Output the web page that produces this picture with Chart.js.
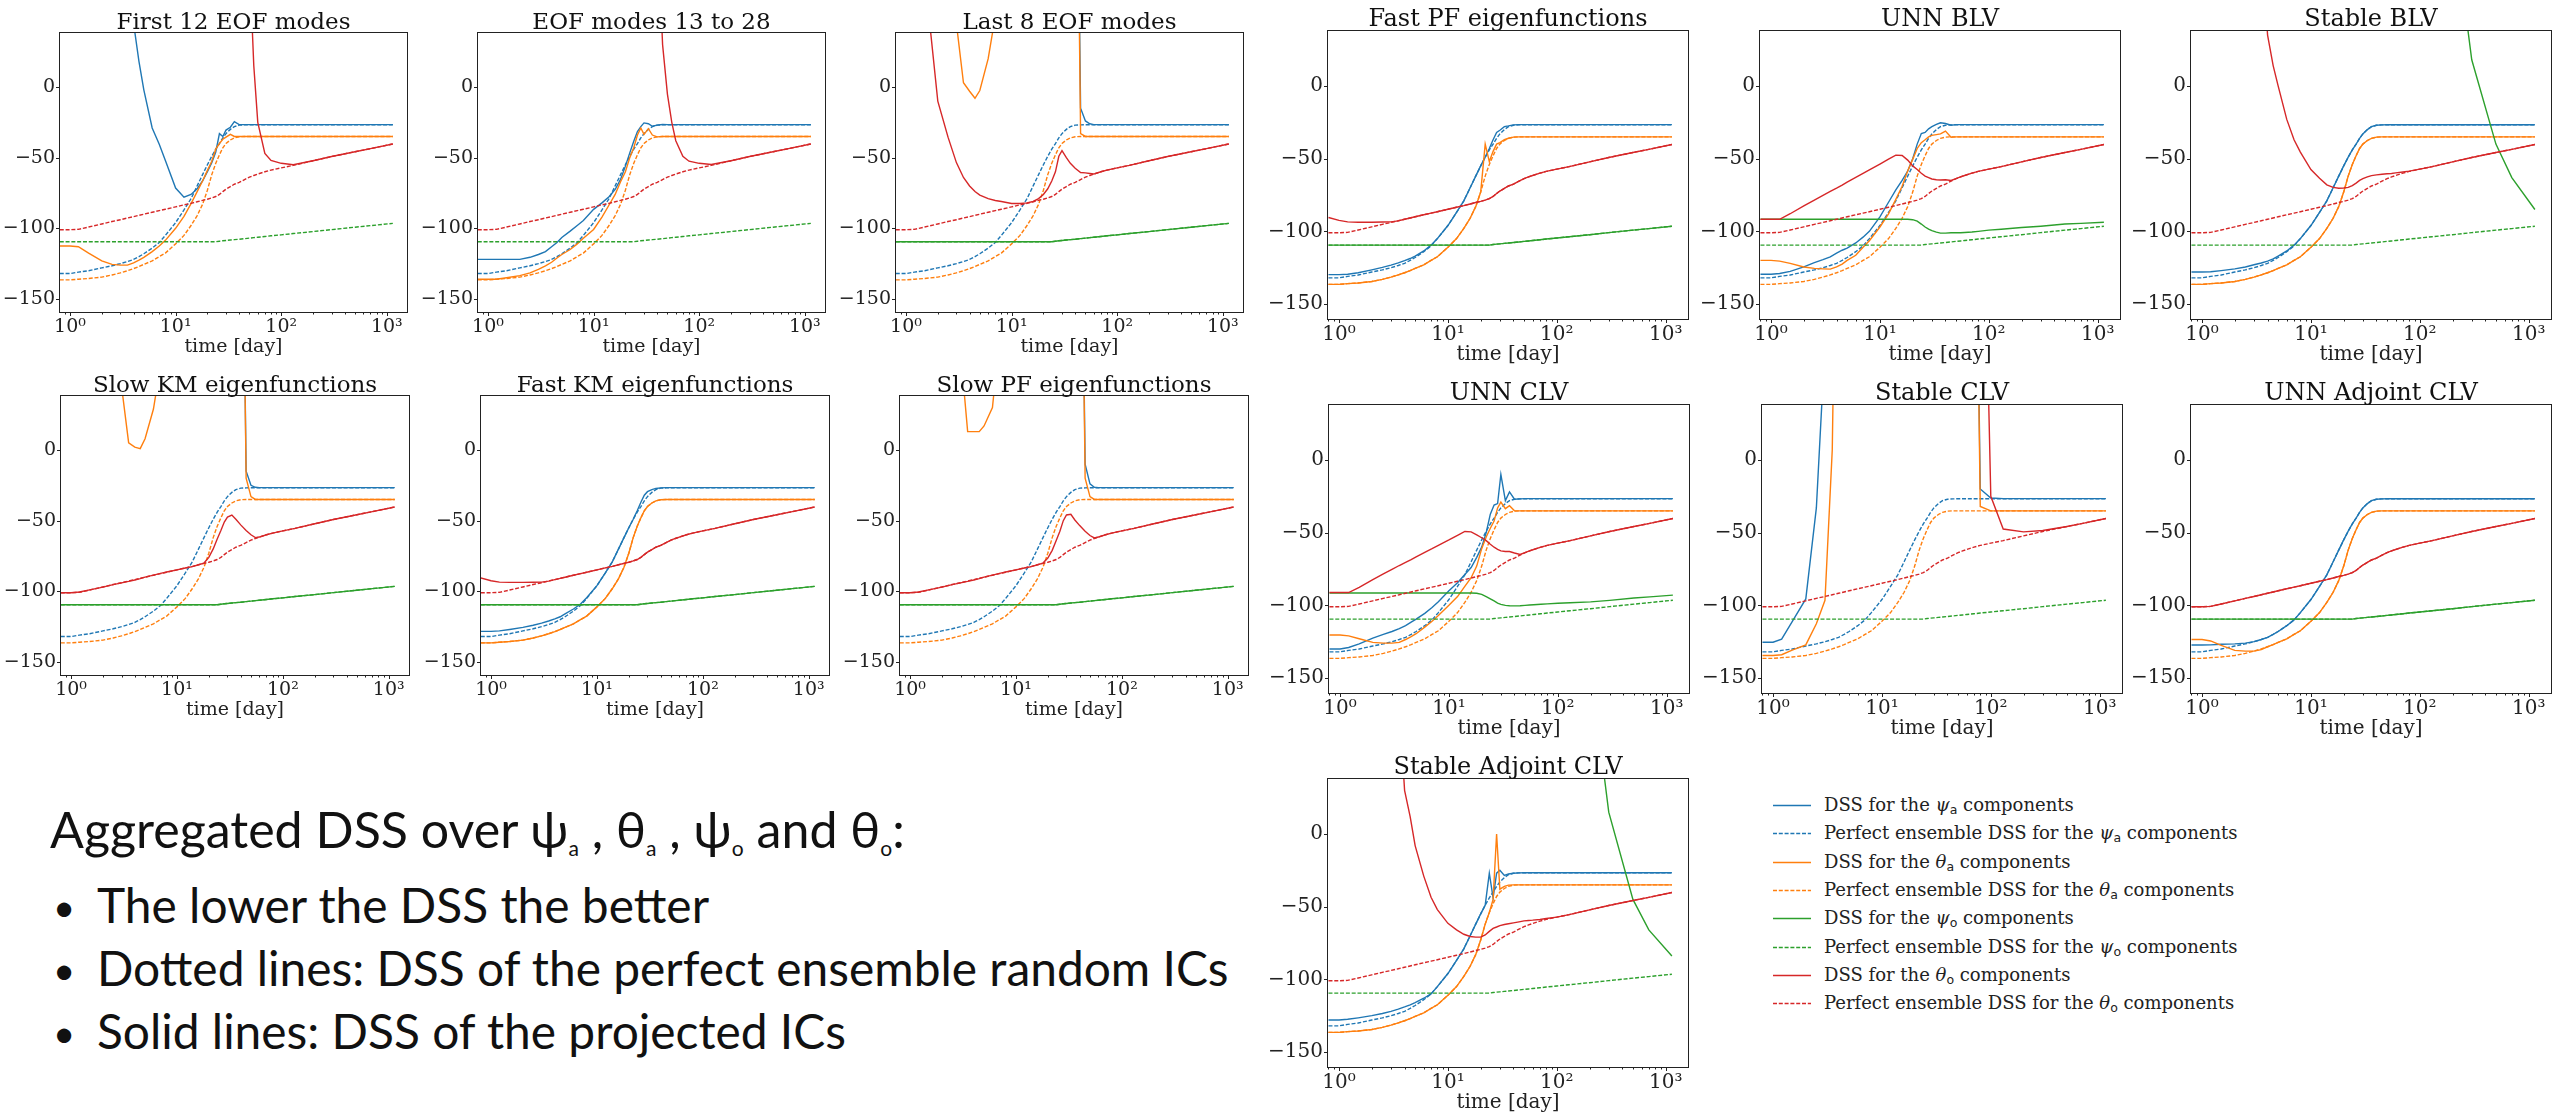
<!DOCTYPE html>
<html><head><meta charset="utf-8">
<script src="https://cdn.jsdelivr.net/npm/chart.js@4.4.1/dist/chart.umd.min.js"></script>
<style>
html,body{margin:0;padding:0;background:#fff;}
body{width:2553px;height:1116px;position:relative;overflow:hidden;}
canvas{position:absolute;display:block;}
.note{position:absolute;font-family:Lato,'Noto Sans',sans-serif;color:#111;white-space:nowrap;line-height:1.2;}
.note sub{font-size:0.42em;vertical-align:-0.36em;line-height:0;}
.leg{position:absolute;font-family:'DejaVu Serif',serif;font-size:18px;color:#222;white-space:nowrap;line-height:28px;height:28px;}
.leg i{font-style:italic;}
.leg sub{font-family:'DejaVu Sans',sans-serif;font-size:12.5px;vertical-align:-3px;line-height:0;}
.leg svg{position:absolute;left:-51px;top:13px;}
</style></head><body>
<script>
// ---------------- data ----------------
const T_DAYS = [0.8, 1, 1.2, 1.5, 2, 2.5, 3, 3.5, 4, 4.5, 5, 6, 7, 8, 10, 12, 14, 16, 18, 20, 22, 24, 26, 28, 30, 33, 36, 40, 45, 50, 55, 60, 70, 80, 100, 130, 200, 300, 500, 700, 1140];

// perfect-ensemble reference curves (dashed)
const REF_PSI_A = [-132, -132, -131, -130, -128, -126.5, -125, -123.5, -122, -120,
  -118, -114, -110, -105, -96, -87, -79, -70, -62, -55,
  -49, -44, -40, -36, -33, -30, -28, -27, -26.8, -26.7,
  -26.7, -26.7, -26.7, -26.7, -26.7, -26.7, -26.7, -26.7, -26.7, -26.7, -26.7];
const REF_THETA_A = [-136.5, -136.5, -136, -135.5, -134.5, -133, -131.5, -130, -128.5, -127,
  -125.5, -123, -120, -117.5, -111, -105, -98, -91, -83, -73,
  -62, -54, -48, -43, -40, -37.5, -36, -35.2, -35, -35,
  -35, -35, -35, -35, -35, -35, -35, -35, -35, -35, -35];
const REF_PSI_O = [-109.5, -109.5, -109.5, -109.5, -109.5, -109.5, -109.5, -109.5, -109.5, -109.5,
  -109.5, -109.5, -109.5, -109.5, -109.5, -109.5, -109.5, -109.5, -109.5, -109.5,
  -109.5, -109.5, -109.1, -108.8, -108.6, -108.3, -108.0, -107.7, -107.3, -106.9,
  -106.6, -106.3, -105.8, -105.3, -104.6, -103.7, -102.3, -100.9, -99.2, -98.1, -96.5];
const REF_THETA_O = [-101, -101, -100.7, -99.1, -96.9, -95.2, -93.9, -92.7, -91.7, -90.8,
  -90, -88.6, -87.5, -86.5, -84.8, -83.4, -82.3, -81.2, -80.2, -79.4,
  -78.5, -77.5, -76, -74, -72.3, -70.5, -68.8, -67.5, -65.5, -63.8,
  -62.6, -61.6, -60, -58.8, -57.2, -55.5, -52.2, -49.2, -45.8, -43.6, -40.3];

// First 12 EOF modes
const EOF12_PSI_A = [300, 300, 300, 300, 300, 300, 300, 150, 45, 18,
  -2, -29, -40.5, -52, -71.5, -78, -76, -72, -66.5, -60,
  -53.5, -46, -33, -35, -30.5, -28.5, -24.5, -26.6, -26.6, -26.6,
  -26.6, -26.6, -26.6, -26.6, -26.6, -26.6, -26.6, -26.6, -26.6, -26.6, -26.6];
const EOF12_THETA_A = [-112.5, -112.5, -113, -117.5, -123, -125.5, -126, -126, -124.5, -122.5,
  -120.5, -116.5, -112.5, -108.5, -100, -91.5, -82.5, -74, -66.5, -59,
  -52.5, -44, -40, -37, -35.5, -33.5, -35, -35, -35, -35,
  -35, -35, -35, -35, -35, -35, -35, -35, -35, -35, -35];
const EOF12_THETA_O = [null, null, null, null, null, null, null, null, null, null,
  null, null, null, null, null, null, null, null, null, null,
  null, null, null, null, null, null, 300, 300, 200, 90,
  15, -25, -47, -52, -54, -55, -52.2, -49.2, -45.8, -43.6, -40.3];

// EOF modes 13 to 28
const EOF13_PSI_A = [-122, -122, -122, -122, -122, -120.5, -118.5, -116.5, -113, -110,
  -106.5, -102, -98, -94.5, -86.6, -82, -77.6, -72.5, -65.4, -56,
  -46.6, -38.4, -31.5, -28, -25.4, -26, -27.8, -27, -26.5, -26.6,
  -26.6, -26.6, -26.6, -26.6, -26.6, -26.6, -26.6, -26.6, -26.6, -26.6, -26.6];
const EOF13_THETA_A = [-136, -136, -136, -135, -133.5, -131.5, -129, -126.5, -124, -121,
  -118.5, -115, -111, -107, -100.8, -92, -83.5, -76, -67, -60,
  -50, -43, -34, -29, -33.5, -29.5, -34, -35.3, -35, -35,
  -35, -35, -35, -35, -35, -35, -35, -35, -35, -35, -35];
const EOF13_THETA_O = [null, null, null, null, null, null, null, null, null, null,
  null, null, null, null, null, null, null, null, null, null,
  null, null, null, null, null, null, 300, 120, 30, -5,
  -25, -38, -49, -52.5, -54, -54.8, -52.2, -49.2, -45.8, -43.6, -40.3];

// Last 8 EOF modes
const EOF8_PSI_A = [null, null, null, null, null, null, null, null, null, null,
  null, null, null, null, null, null, null, null, null, null,
  null, null, null, null, null, null, null, 300, -15, -24,
  -26, -26.6, -26.6, -26.6, -26.6, -26.6, -26.6, -26.6, -26.6, -26.6, -26.6];
const EOF8_THETA_A = [300, 300, 300, 300, 300, 300, 45, 3, -3, -8,
  -2.5, 20, 50, 300, 300, 300, 300, 300, 300, 300,
  300, 300, 300, 300, 300, 300, 300, 300, -33, -35,
  -35, -35, -35, -35, -35, -35, -35, -35, -35, -35, -35];
const EOF8_THETA_O = [300, 300, 300, 80, -10, -35.5, -53.5, -64, -70, -74,
  -76.5, -79, -80.3, -81, -82.4, -82.4, -82, -81, -79, -76,
  -72, -66.5, -60, -49, -45, -50, -54, -57.5, -60.5, -60.8,
  -61.2, -61.6, -60, -58.8, -57.2, -55.5, -52.2, -49.2, -45.8, -43.6, -40.3];

// Slow KM eigenfunctions
const SKM_PSI_A = [null, null, null, null, null, null, null, null, null, null,
  null, null, null, null, null, null, null, null, null, null,
  null, null, null, null, null, null, null, 300, -15, -25,
  -26.4, -26.6, -26.6, -26.6, -26.6, -26.6, -26.6, -26.6, -26.6, -26.6, -26.6];
const SKM_THETA_A = [300, 300, 300, 300, 300, 300, 45, 5, 2, 1,
  8, 29, 60, 300, 300, 300, 300, 300, 300, 300,
  300, 300, 300, 300, 300, 300, 300, 300, -20, -33,
  -35, -35, -35, -35, -35, -35, -35, -35, -35, -35, -35];
const SKM_THETA_O = [-101, -101, -100.5, -99, -97, -95.3, -94, -93, -92, -91,
  -90, -88.5, -87.3, -86.3, -84.8, -83.5, -82.5, -81.2, -80, -76,
  -70, -63, -57, -51, -47.5, -46, -49, -53, -57, -60,
  -62, -61.6, -60, -58.8, -57.2, -55.5, -52.2, -49.2, -45.8, -43.6, -40.3];

// Fast KM eigenfunctions
const FKM_PSI_A = [-128.3, -128.3, -128, -127, -125.5, -124, -122.5, -121, -119.5, -118,
  -116, -112.5, -109, -104.5, -96, -87, -79, -70, -62, -55,
  -49, -43, -37, -32, -29.5, -28, -27.2, -26.8, -26.6, -26.6,
  -26.6, -26.6, -26.6, -26.6, -26.6, -26.6, -26.6, -26.6, -26.6, -26.6, -26.6];
const FKM_THETA_O = [-90.5, -92.5, -93.5, -93.7, -93.7, -93.6, -93.5, -92.8, -91.7, -90.8,
  -90, -88.6, -87.5, -86.5, -84.8, -83.4, -82.3, -81.2, -80.2, -79.4,
  -78.5, -77.5, -76, -74, -72.3, -70.5, -68.8, -67.5, -65.5, -63.8,
  -62.6, -61.6, -60, -58.8, -57.2, -55.5, -52.2, -49.2, -45.8, -43.6, -40.3];

// Slow PF eigenfunctions
const SPF_PSI_A = [null, null, null, null, null, null, null, null, null, null,
  null, null, null, null, null, null, null, null, null, null,
  null, null, null, null, null, null, null, 300, -10, -24,
  -26.4, -26.6, -26.6, -26.6, -26.6, -26.6, -26.6, -26.6, -26.6, -26.6, -26.6];
const SPF_THETA_A = [300, 300, 300, 300, 300, 300, 70, 13, 13, 13,
  17, 30, 80, 300, 300, 300, 300, 300, 300, 300,
  300, 300, 300, 300, 300, 300, 300, 300, -20, -33,
  -35, -35, -35, -35, -35, -35, -35, -35, -35, -35, -35];
const SPF_THETA_O = [-101, -101, -100.5, -99, -97, -95.3, -94, -93, -92, -91,
  -90, -88.5, -87.3, -86.3, -84.8, -83.5, -82.5, -81.2, -80, -76.5,
  -71, -64, -57.5, -50, -46, -45.5, -49.5, -53.5, -57.5, -60.5,
  -62.2, -61.6, -60, -58.8, -57.2, -55.5, -52.2, -49.2, -45.8, -43.6, -40.3];

// Fast PF eigenfunctions
const FPF_PSI_A = [-129.8, -129.8, -129.5, -128.5, -126.5, -124.8, -123.2, -121.7, -120.2, -118.7,
  -117, -113.5, -109.5, -105, -96, -87, -79, -70, -62, -55,
  -49, -43, -37, -32, -30.5, -28, -27.5, -26.8, -26.6, -26.6,
  -26.6, -26.6, -26.6, -26.6, -26.6, -26.6, -26.6, -26.6, -26.6, -26.6, -26.6];
const FPF_THETA_A = [-136.5, -136.5, -136, -135.5, -134.5, -133, -131.5, -130, -128.5, -127,
  -125.5, -123, -120, -117.5, -111, -105, -98, -91, -83, -73,
  -40, -52, -45, -40, -39, -37, -36, -35.2, -35, -35,
  -35, -35, -35, -35, -35, -35, -35, -35, -35, -35, -35];
const FPF_THETA_O = [-90.5, -92.5, -93.5, -93.7, -93.7, -93.6, -93.5, -92.8, -91.7, -90.8,
  -90, -88.6, -87.5, -86.5, -84.8, -83.4, -82.3, -81.2, -80.2, -79.4,
  -78.5, -77.5, -76, -74, -72.3, -70.5, -68.8, -67.5, -65.5, -63.8,
  -62.6, -61.6, -60, -58.8, -57.2, -55.5, -52.2, -49.2, -45.8, -43.6, -40.3];

// UNN BLV
const UBLV_PSI_A = [-129.5, -129.5, -129, -127.5, -124.5, -121.5, -119.5, -117.5, -115, -113,
  -111.5, -108, -104, -100, -90, -80, -71.5, -65, -58.5, -50,
  -40, -32.7, -32, -29.5, -28, -26.5, -25.3, -25.8, -27, -26.6,
  -26.6, -26.6, -26.6, -26.6, -26.6, -26.6, -26.6, -26.6, -26.6, -26.6, -26.6];
const UBLV_THETA_A = [-120, -120, -120.5, -122, -124.5, -125.5, -125.8, -126, -124.5, -122.5,
  -120, -116.5, -111, -106.5, -97, -88, -78, -69, -58.5, -50.5,
  -43, -39, -37, -35, -34, -33.5, -33, -31, -35.3, -35,
  -35, -35, -35, -35, -35, -35, -35, -35, -35, -35, -35];
const UBLV_PSI_O = [-91.7, -91.7, -91.7, -91.7, -91.7, -91.7, -91.7, -91.7, -91.7, -91.7,
  -91.7, -91.7, -91.7, -91.7, -91.7, -91.7, -91.7, -91.7, -91.7, -92,
  -93, -95, -97, -98.5, -99.5, -100.5, -101.2, -101.2, -101, -101,
  -101, -100.8, -100.5, -100, -99.2, -98.6, -97.4, -96.5, -95, -94.5, -93.8];
const UBLV_THETA_O = [-91.7, -91.7, -91.7, -87.9, -82.5, -78.5, -75.3, -72.5, -70.3, -68.2,
  -66.1, -62.9, -60.1, -57.7, -53.7, -50.4, -47.6, -47.8, -51, -55,
  -57.5, -60, -62, -63, -64, -64.5, -64.7, -64.5, -65, -63.8,
  -62.6, -61.6, -60, -58.8, -57.2, -55.5, -52.2, -49.2, -45.8, -43.6, -40.3];

// Stable BLV
const SBLV_PSI_A = [-128, -128, -127.8, -127, -125.8, -124.5, -123, -121.8, -120.5, -119,
  -117, -113.5, -109.5, -105, -96, -87, -79, -70, -62, -55,
  -49, -44, -40, -36, -33, -30, -28, -27, -26.8, -26.7,
  -26.7, -26.7, -26.7, -26.7, -26.7, -26.7, -26.7, -26.7, -26.7, -26.7, -26.7];
const SBLV_PSI_O = [null, null, null, null, null, null, null, null, null, null,
  null, null, null, null, null, null, null, null, null, null,
  null, null, null, null, null, null, null, null, null, null,
  null, null, null, null, null, null, 120, 18, -40, -63, -85];
const SBLV_THETA_O = [null, null, null, null, null, null, null, 100, 35, 14,
  0, -23, -37, -45.5, -57.5, -63.5, -68, -69.8, -70.4, -70.2,
  -69.8, -68.5, -66.8, -65, -63.8, -62.5, -61.7, -61.2, -60.7, -60.4,
  -60.2, -59.8, -59.2, -58.6, -57.2, -55.5, -52.2, -49.2, -45.8, -43.6, -40.3];

// UNN CLV
const UCLV_PSI_A = [-130, -130, -129, -126.5, -122.6, -120, -118, -116, -114, -111.5,
  -109.5, -105.5, -101.5, -97.5, -90, -84.5, -78.8, -74, -67, -60,
  -50, -37.3, -31, -30, -10, -28, -22, -27, -26.8, -26.6,
  -26.6, -26.6, -26.6, -26.6, -26.6, -26.6, -26.6, -26.6, -26.6, -26.6, -26.6];
const UCLV_THETA_A = [-120.4, -120.4, -121, -123, -125.5, -126, -126, -125.5, -123.5, -121.5,
  -119.5, -115, -111, -107, -100, -94, -87, -81, -73, -61,
  -53, -47, -42, -33, -29, -33.5, -31.5, -35, -35, -35,
  -35, -35, -35, -35, -35, -35, -35, -35, -35, -35, -35];
const UCLV_PSI_O = [-91.5, -91.5, -91.5, -91.5, -91.5, -91.5, -91.5, -91.5, -91.5, -91.5,
  -91.5, -91.5, -91.5, -91.5, -91.5, -91.5, -91.5, -91.5, -91.7, -92.5,
  -94, -95.5, -97, -98.5, -99.3, -100, -100.3, -100.4, -100.3, -100,
  -99.8, -99.6, -99.3, -99, -98.6, -98.2, -97.6, -96.6, -95, -94.2, -93];
const UCLV_THETA_O = [-91.2, -91.2, -91.2, -87.6, -82.3, -78.4, -75.3, -72.6, -70.4, -68.5,
  -66.6, -63.5, -61, -58.7, -55, -51.8, -49.2, -49.5, -51.5, -53.5,
  -55.5, -58, -60, -61.5, -62.5, -63, -63, -64, -65, -63.8,
  -62.6, -61.6, -60, -58.8, -57.2, -55.5, -52.2, -49.2, -45.8, -43.6, -40.3];

// Stable CLV
const SCLV_PSI_A = [-125.4, -125.4, -123.3, -111.2, -95.6, -33, 80, 300, 300, 300,
  300, 300, 300, 300, 300, 300, 300, 300, 300, 300,
  300, 300, 300, 300, 300, 300, 300, 300, 300, 300,
  300, 300, 300, -20, -26.2, -26.6, -26.6, -26.6, -26.6, -26.6, -26.6];
const SCLV_THETA_A = [-134.5, -134.5, -134, -130.8, -127.2, -112.7, -96.5, 7, 300, 300,
  300, 300, 300, 300, 300, 300, 300, 300, 300, 300,
  300, 300, 300, 300, 300, 300, 300, 300, 300, 300,
  300, 300, 300, -32, -35, -35, -35, -35, -35, -35, -35];
const SCLV_THETA_O = [null, null, null, null, null, null, null, null, null, null,
  null, null, null, null, null, null, null, null, null, null,
  null, null, null, null, null, null, null, null, null, null,
  null, null, null, 300, -25, -47.5, -49.5, -48.5, -45.8, -43.6, -40.3];

// UNN Adjoint CLV
const UACLV_PSI_A = [-127.3, -127.3, -127.2, -126.8, -126.5, -126, -125, -123.5, -122, -120,
  -118, -114, -110, -105, -96, -87, -79, -70, -62, -55,
  -49, -44, -40, -36, -33, -30, -28, -27, -26.8, -26.7,
  -26.7, -26.7, -26.7, -26.7, -26.7, -26.7, -26.7, -26.7, -26.7, -26.7, -26.7];
const UACLV_THETA_A = [-123.5, -123.5, -124.5, -127.5, -131, -131.5, -131.5, -130.5, -128.5, -127,
  -125.5, -123, -120, -117.5, -111, -105, -98, -91, -83, -73,
  -62, -54, -48, -43, -40, -37.5, -36, -35.2, -35, -35,
  -35, -35, -35, -35, -35, -35, -35, -35, -35, -35, -35];

// Stable Adjoint CLV
const SACLV_PSI_A = [-128, -128, -127.5, -126.5, -125, -123.5, -122, -120.5, -119, -117.5,
  -116, -113, -110, -105, -96, -87, -79, -70, -62, -55,
  -49, -27, -44, -27, -25, -28.5, -27.5, -27, -26.8, -26.7,
  -26.7, -26.7, -26.7, -26.7, -26.7, -26.7, -26.7, -26.7, -26.7, -26.7, -26.7];
const SACLV_THETA_A = [-136.5, -136.5, -136, -135.5, -134.5, -133, -131.5, -130, -128.5, -127,
  -125.5, -123, -120, -117.5, -111, -105, -98, -91, -83, -73,
  -62, -54, -45, 0, -38, -36, -35.2, -35, -35, -35,
  -35, -35, -35, -35, -35, -35, -35, -35, -35, -35, -35];
const SACLV_PSI_O = [null, null, null, null, null, null, null, null, null, null,
  null, null, null, null, null, null, null, null, null, null,
  null, null, null, null, null, null, null, null, null, null,
  null, null, null, null, null, null, 120, 15, -45, -66, -84];
const SACLV_THETA_O = [null, null, null, null, null, null, null, 100, 30, 12,
  -8, -29, -43.5, -52, -61.5, -66, -69, -70.5, -71, -71,
  -69.5, -67, -65, -64, -63, -62.3, -61.8, -61.2, -60.5, -59.8,
  -59.5, -59.3, -58.8, -58.2, -57.2, -55.5, -52.2, -49.2, -45.8, -43.6, -40.3];

const PANEL_TITLES = ['First 12 EOF modes', 'EOF modes 13 to 28', 'Last 8 EOF modes',
  'Slow KM eigenfunctions', 'Fast KM eigenfunctions', 'Slow PF eigenfunctions',
  'Fast PF eigenfunctions', 'UNN BLV', 'Stable BLV',
  'UNN CLV', 'Stable CLV', 'UNN Adjoint CLV', 'Stable Adjoint CLV'];
const SOLID_PSI_A = [EOF12_PSI_A, EOF13_PSI_A, EOF8_PSI_A, SKM_PSI_A, FKM_PSI_A, SPF_PSI_A,
  FPF_PSI_A, UBLV_PSI_A, SBLV_PSI_A, UCLV_PSI_A, SCLV_PSI_A, UACLV_PSI_A, SACLV_PSI_A];
const SOLID_THETA_A = [EOF12_THETA_A, EOF13_THETA_A, EOF8_THETA_A, SKM_THETA_A, REF_THETA_A, SPF_THETA_A,
  FPF_THETA_A, UBLV_THETA_A, REF_THETA_A, UCLV_THETA_A, SCLV_THETA_A, UACLV_THETA_A, SACLV_THETA_A];
const SOLID_PSI_O = [null, null, REF_PSI_O, REF_PSI_O, REF_PSI_O, REF_PSI_O,
  REF_PSI_O, UBLV_PSI_O, SBLV_PSI_O, UCLV_PSI_O, null, REF_PSI_O, SACLV_PSI_O];
const SOLID_THETA_O = [EOF12_THETA_O, EOF13_THETA_O, EOF8_THETA_O, SKM_THETA_O, FKM_THETA_O, SPF_THETA_O,
  FPF_THETA_O, UBLV_THETA_O, SBLV_THETA_O, UCLV_THETA_O, SCLV_THETA_O, REF_THETA_O, SACLV_THETA_O];

const Y_TICKS = [-150, -100, -50, 0];
const X_TICKS = [1, 10, 100, 1000];
const X_TICK_LABELS = ['10⁰', '10¹', '10²', '10³'];
const X_AXIS_LABEL = 'time [day]';

const LEGEND_LABELS = [
  'DSS for the <i>ψ</i><sub>a</sub> components',
  'Perfect ensemble DSS for the <i>ψ</i><sub>a</sub> components',
  'DSS for the <i>θ</i><sub>a</sub> components',
  'Perfect ensemble DSS for the <i>θ</i><sub>a</sub> components',
  'DSS for the <i>ψ</i><sub>o</sub> components',
  'Perfect ensemble DSS for the <i>ψ</i><sub>o</sub> components',
  'DSS for the <i>θ</i><sub>o</sub> components',
  'Perfect ensemble DSS for the <i>θ</i><sub>o</sub> components'];
const NOTE_HEADING = 'Aggregated DSS over ψ<sub>a</sub> , θ<sub>a</sub> , ψ<sub>o</sub> and θ<sub>o</sub>:';
const NOTE_BULLETS = ['The lower the DSS the better',
  'Dotted lines: DSS of the perfect ensemble random ICs',
  'Solid lines: DSS of the projected ICs'];

// ---------------- layout / style ----------------
const BOXES = [[60,33,347,279],[478,33,347,279],[896,33,347,279],
  [61,396,348,279],[481,396,348,279],[900,396,348,279],
  [1328,31,360,288],[1760,31,360,288],[2191,31,360,288],
  [1329,405,360,288],[1762,405,360,288],[2191,405,360,288],
  [1328,779,360,288]];
const C_BLUE = '#1f77b4', C_ORANGE = '#ff7f0e', C_GREEN = '#2ca02c', C_RED = '#d62728';
const LEGEND_STYLE = [[C_BLUE,0],[C_BLUE,1],[C_ORANGE,0],[C_ORANGE,1],[C_GREEN,0],[C_GREEN,1],[C_RED,0],[C_RED,1]];
const LW = 1.4, DASH = [4, 1.8];
const PADL = 80, PADT = 45, PADR = 12, PADB = 75;

Chart.defaults.font.family = "'DejaVu Serif', serif";

const framePlugin = {
  id: 'frame',
  afterDraw(chart, args, o) {
    const {ctx, chartArea: a} = chart;
    const x = chart.scales.x, y = chart.scales.y;
    ctx.save();
    ctx.strokeStyle = '#222';
    ctx.lineWidth = 1;
    const l = Math.round(a.left) - 0.5, t = Math.round(a.top) - 0.5;
    const r = Math.round(a.right) + 0.5, b = Math.round(a.bottom) + 0.5;
    ctx.strokeRect(l, t, r - l, b - t);
    ctx.beginPath();
    for (const v of Y_TICKS) {
      const py = Math.round(y.getPixelForValue(v)) + 0.5;
      ctx.moveTo(l - 3.5, py); ctx.lineTo(l, py);
    }
    for (let e = -1; e <= 3; e++) {
      for (let m = 1; m <= 9; m++) {
        const v = m * Math.pow(10, e);
        if (v < x.min * 1.001 || v > x.max) continue;
        const px = Math.round(x.getPixelForValue(v)) + 0.5;
        ctx.moveTo(px, b); ctx.lineTo(px, b + (m === 1 ? 3.5 : 2));
      }
    }
    ctx.stroke();
    ctx.fillStyle = '#111';
    ctx.font = o.titleSize + "px 'DejaVu Serif'";
    ctx.textAlign = 'center';
    ctx.textBaseline = 'alphabetic';
    ctx.fillText(o.title, (a.left + a.right) / 2, a.top - o.titleGap);
    ctx.restore();
  }
};

function series(vals, color, dashed) {
  return {
    data: T_DAYS.map((t, i) => ({x: t, y: vals[i]})),
    borderColor: color, borderWidth: LW, borderDash: dashed ? DASH : [],
    pointRadius: 0, pointHoverRadius: 0, fill: false, tension: 0, spanGaps: false
  };
}

function makePanel(i) {
  const [L, T, W, H] = BOXES[i];
  const right = i >= 6;
  const fs = right ? 20 : 19, tfs = right ? 24 : 23;
  const cw = W + PADL + PADR, ch = H + PADT + PADB;
  const c = document.createElement('canvas');
  c.width = cw; c.height = ch;
  c.style.left = (L - PADL) + 'px'; c.style.top = (T - PADT) + 'px';
  c.style.width = cw + 'px'; c.style.height = ch + 'px';
  document.body.appendChild(c);
  // matplotlib draw order is solid/dashed pairs; Chart.js draws index 0 last
  const ds = [];
  ds.push(series(REF_THETA_O, C_RED, true));
  if (SOLID_THETA_O[i]) ds.push(series(SOLID_THETA_O[i], C_RED, false));
  ds.push(series(REF_PSI_O, C_GREEN, true));
  if (SOLID_PSI_O[i]) ds.push(series(SOLID_PSI_O[i], C_GREEN, false));
  ds.push(series(REF_THETA_A, C_ORANGE, true));
  if (SOLID_THETA_A[i]) ds.push(series(SOLID_THETA_A[i], C_ORANGE, false));
  ds.push(series(REF_PSI_A, C_BLUE, true));
  if (SOLID_PSI_A[i]) ds.push(series(SOLID_PSI_A[i], C_BLUE, false));
  const xr = right ? [0.792, 1603] : [0.804, 1553];
  const yr = right ? [-160.3, 37.8] : [-159.2, 38.2];
  const tickFont = {family: "'DejaVu Serif'", size: fs};
  new Chart(c, {
    type: 'line',
    data: {datasets: ds},
    options: {
      responsive: false, animation: false, devicePixelRatio: 1,
      events: [],
      layout: {padding: {left: 0, top: PADT, right: PADR, bottom: 0}},
      plugins: {
        legend: {display: false}, tooltip: {enabled: false}, title: {display: false},
        frame: {title: PANEL_TITLES[i], titleSize: tfs, titleGap: right ? 5 : 4}
      },
      scales: {
        x: {
          type: 'logarithmic', min: xr[0], max: xr[1], bounds: 'data',
          afterFit: s => { s.height = PADB; },
          afterBuildTicks: s => { s.ticks = X_TICKS.map(v => ({value: v})); },
          ticks: {
            autoSkip: false, maxRotation: 0, minRotation: 0, padding: 4, color: '#222', font: tickFont,
            callback: v => { const k = X_TICKS.indexOf(v); return k >= 0 ? X_TICK_LABELS[k] : ''; }
          },
          grid: {display: false, drawTicks: false}, border: {display: false},
          title: {display: true, text: X_AXIS_LABEL, color: '#222', font: tickFont,
                  padding: {top: 0, bottom: right ? 27 : 28.6}}
        },
        y: {
          type: 'linear', min: yr[0], max: yr[1], bounds: 'data',
          afterFit: s => { s.width = PADL; },
          afterBuildTicks: s => { s.ticks = Y_TICKS.map(v => ({value: v})); },
          ticks: {
            padding: 5, color: '#222', font: tickFont,
            callback: v => (v < 0 ? '\u2212' + Math.abs(v) : String(v))
          },
          grid: {display: false, drawTicks: false}, border: {display: false}
        }
      }
    },
    plugins: [framePlugin]
  });
}

for (let i = 0; i < BOXES.length; i++) makePanel(i);

// ---------------- legend (HTML) ----------------
LEGEND_LABELS.forEach((lab, k) => {
  const d = document.createElement('div');
  d.className = 'leg';
  d.style.left = '1824px';
  d.style.top = (805 + 28.3 * k - 14) + 'px';
  const [col, dashed] = LEGEND_STYLE[k];
  d.innerHTML = `<svg width="38" height="3"><line x1="0" y1="1.5" x2="38" y2="1.5" stroke="${col}" stroke-width="1.4" ${dashed ? 'stroke-dasharray="4 1.8"' : ''}/></svg>` + lab;
  document.body.appendChild(d);
});

// ---------------- text block ----------------
function placeBaseline(el, x, baseY) {
  el.style.left = x + 'px'; el.style.top = '0px';
  const p = document.createElement('span');
  p.style.cssText = 'display:inline-block;width:0;height:0;vertical-align:baseline;';
  el.appendChild(p);
  const b = p.offsetTop;
  el.removeChild(p);
  el.style.top = (baseY - b) + 'px';
}
function fitWidth(el, target) {
  el.style.fontSize = '40px';
  const w = el.getBoundingClientRect().width;
  const s = 40 * target / w;
  el.style.fontSize = s + 'px';
  return s;
}
const hd = document.createElement('div');
hd.className = 'note'; hd.innerHTML = NOTE_HEADING;
document.body.appendChild(hd);
fitWidth(hd, 855);
placeBaseline(hd, 50, 848);

const measure = document.createElement('div');
measure.className = 'note'; measure.textContent = NOTE_BULLETS[1];
document.body.appendChild(measure);
const bs = fitWidth(measure, 1132);
document.body.removeChild(measure);
const BULLET_BASE = [923, 986, 1049];
NOTE_BULLETS.forEach((txt, k) => {
  const dot = document.createElement('div');
  dot.className = 'note'; dot.textContent = '•'; dot.style.fontSize = (bs * 0.8) + 'px';
  document.body.appendChild(dot);
  placeBaseline(dot, 53, BULLET_BASE[k] - 2);
  const d = document.createElement('div');
  d.className = 'note'; d.textContent = txt; d.style.fontSize = bs + 'px';
  document.body.appendChild(d);
  placeBaseline(d, 97, BULLET_BASE[k]);
});
</script>
</body></html>
